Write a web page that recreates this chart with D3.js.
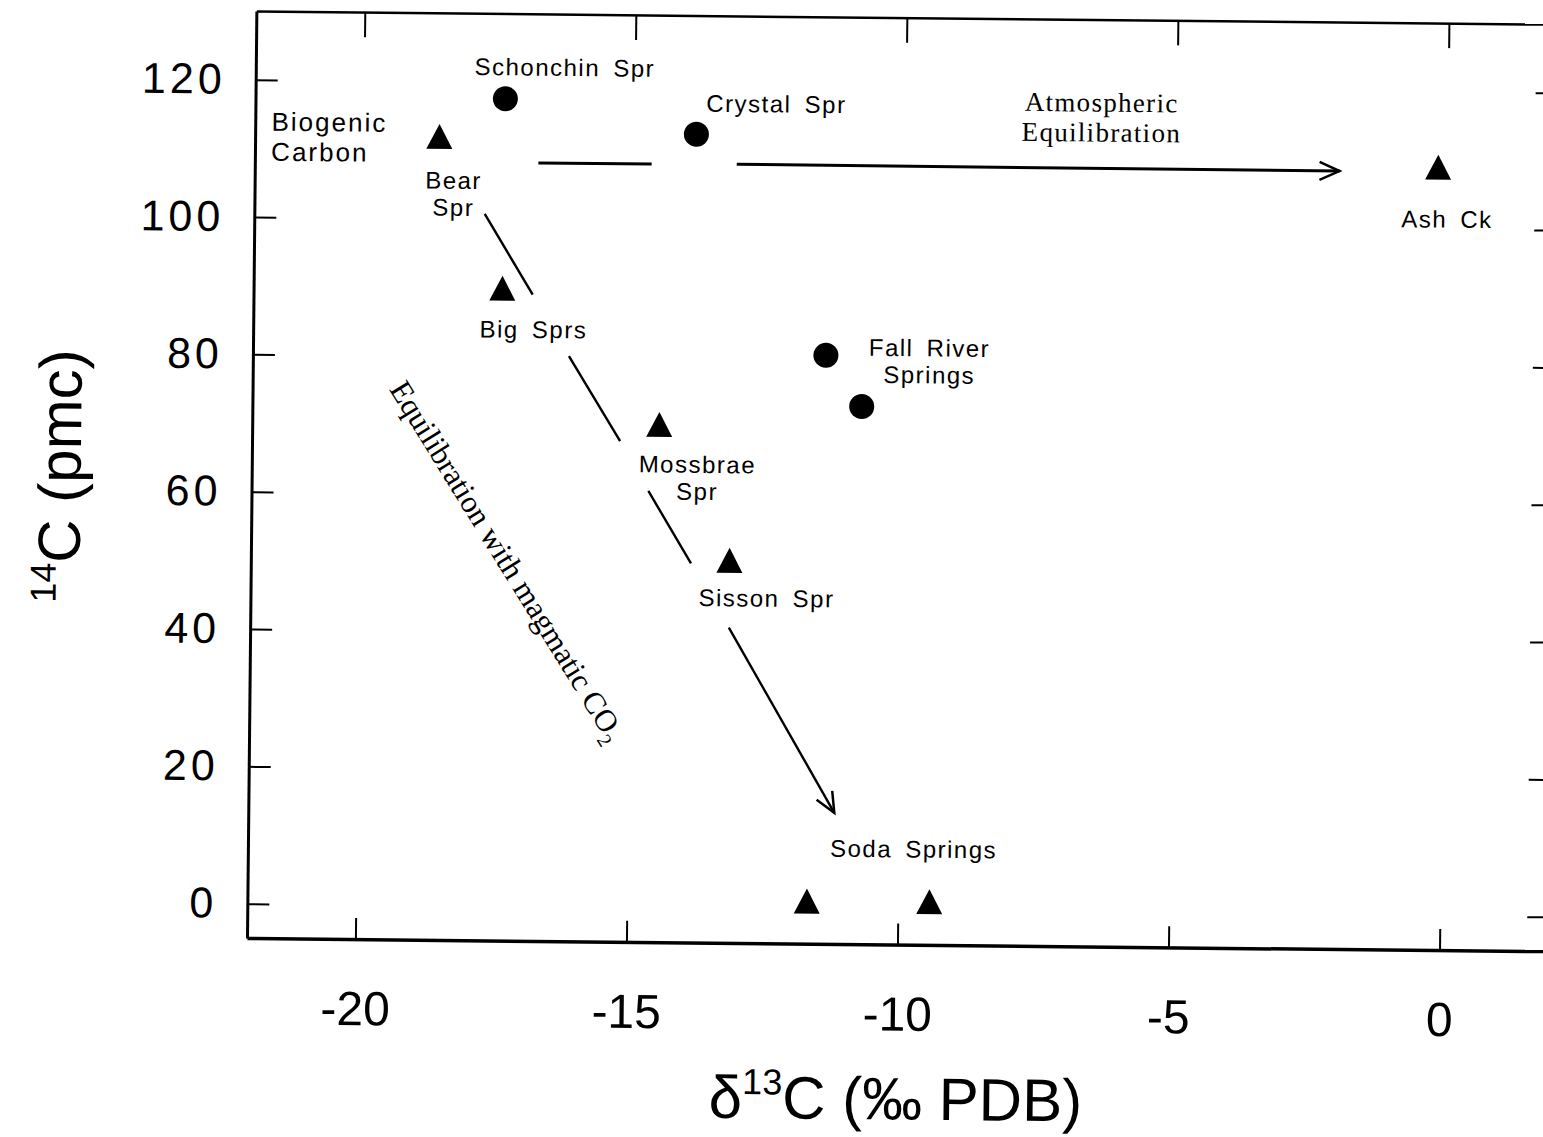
<!DOCTYPE html>
<html>
  <head>
    <meta charset="utf-8" />
    <title>14C vs d13C springs</title>
    <script src="https://d3js.org/d3.v7.min.js" charset="utf-8"></script>
    <style>
      body {
        margin: 0;
        background: #fff;
      }
      svg {
        display: block;
        background: #fff;
      }
      .lbl {
        font-family: "Liberation Sans", Arial, sans-serif;
        font-size: 24px;
        letter-spacing: 1.5px;
        word-spacing: 5px;
        fill: #000;
      }
      .serif {
        font-family: "Liberation Serif", "Times New Roman", serif;
        font-size: 27px;
        letter-spacing: 1.3px;
        fill: #000;
      }
      .xaxis text {
        font-family: "Liberation Sans", Arial, sans-serif;
        font-size: 48px;
      }
      .yaxis text {
        font-family: "Liberation Sans", Arial, sans-serif;
        font-size: 43px;
        letter-spacing: 4px;
      }
      .title {
        font-family: "Liberation Sans", Arial, sans-serif;
        font-size: 60px;
        fill: #000;
      }
    </style>
  </head>
  <body>
    <svg></svg>

    <script>
      // axis ticks
      const xTicks = [-20, -15, -10, -5, 0];
      const yTicks = [0, 20, 40, 60, 80, 100, 120];

      // springs: delta 13C (permil PDB) and 14C (pmc)
      const siteNames = [
        "Schonchin Spr",
        "Crystal Spr",
        "Fall River Springs",
        "Fall River Springs",
        "Bear Spr",
        "Big Sprs",
        "Mossbrae Spr",
        "Sisson Spr",
        "Soda Springs",
        "Soda Springs",
        "Ash Ck",
      ];
      const d13C = [-17.39, -13.86, -11.43, -10.76, -18.6, -17.41, -14.49, -13.17, -11.68, -9.42, -0.17];
      const c14 = [117.6, 112.7, 80.7, 73.3, 111.4, 89.4, 69.8, 50.1, 0.6, 0.7, 108.4];
      const siteShape = ["circle", "circle", "circle", "circle", "tri", "tri", "tri", "tri", "tri", "tri", "tri"];

      // annotation labels (anchored in data units)
      const labelLines = [
        ["Schonchin Spr"],
        ["Crystal Spr"],
        ["Bear", "Spr"],
        ["Big Sprs"],
        ["Fall River", "Springs"],
        ["Mossbrae", "Spr"],
        ["Sisson Spr"],
        ["Soda Springs"],
        ["Ash Ck"],
      ];
      const labelX = [-16.3, -12.39, -18.33, -16.83, -9.52, -13.78, -12.48, -9.72, 0.0];
      const labelY = [121.0, 116.0, 104.4, 82.8, 80.7, 63.4, 44.0, 7.7, 100.2];

      // trend lines with gaps around labels
      const trendSegments = [
        { pts: [[-16.77, 108.3], [-14.68, 108.3]], arrow: false },
        { pts: [[-13.11, 108.4], [-1.99, 108.3]], arrow: true },
        { pts: [[-17.75, 100.8], [-16.85, 89.1]], arrow: false },
        { pts: [[-16.17, 80.2], [-15.21, 67.9]], arrow: false },
        { pts: [[-14.68, 60.7], [-13.88, 50.2]], arrow: false },
        { pts: [[-13.17, 40.9], [-11.19, 14.1]], arrow: true },
      ];

      const W = 1543;
      const H = 1137;
      const margin = { top: 11, left: 247, bottom: 199, right: -5 };
      const tilt = 0.58; // the scanned figure sits slightly rotated

      const x = d3.scaleLinear().domain([-22, 2]).range([margin.left, W - margin.right]);
      const y = d3.scaleLinear().domain([-5, 130]).range([H - margin.bottom, margin.top]);

      const svg = d3.select("svg").attr("width", W).attr("height", H);

      svg
        .append("defs")
        .append("marker")
        .attr("id", "arrow")
        .attr("markerUnits", "userSpaceOnUse")
        .attr("viewBox", "-24 -12 28 24")
        .attr("markerWidth", 28)
        .attr("markerHeight", 24)
        .attr("refX", 0)
        .attr("refY", 0)
        .attr("orient", "auto")
        .append("path")
        .attr("d", "M-20,-9L0,0L-20,9")
        .attr("fill", "none")
        .attr("stroke", "#000")
        .attr("stroke-width", 2.5);

      const g = svg
        .append("g")
        .attr("transform", `rotate(${tilt}, ${margin.left}, ${H - margin.bottom})`);

      // axes
      const xAxis = g
        .append("g")
        .attr("class", "xaxis")
        .attr("transform", `translate(0, ${y(-5)})`)
        .call(
          d3
            .axisBottom(x)
            .tickValues(xTicks)
            .tickSizeInner(-21)
            .tickSizeOuter(0)
            .tickPadding(52)
            .tickFormat((d) => String(d))
        );
      xAxis.select(".domain").attr("stroke-width", 3.5);

      g.append("g")
        .attr("transform", `translate(0, ${y(130)})`)
        .call(d3.axisTop(x).tickValues(xTicks).tickSizeInner(-25).tickSizeOuter(0).tickFormat(""))
        .select(".domain")
        .attr("stroke-width", 2.5);

      const yAxis = g
        .append("g")
        .attr("class", "yaxis")
        .attr("transform", `translate(${x(-22)}, 0)`)
        .call(d3.axisLeft(y).tickValues(yTicks).tickSizeInner(-22).tickSizeOuter(0).tickPadding(30));
      yAxis.select(".domain").attr("stroke-width", 3);

      g.append("g")
        .attr("transform", `translate(${x(2)}, 0)`)
        .call(d3.axisLeft(y).tickValues(yTicks).tickSizeInner(21).tickSizeOuter(0).tickFormat(""))
        .select(".domain")
        .attr("stroke-width", 2.5);

      g.selectAll(".tick line").attr("stroke-width", 2);
      g.selectAll(".tick text").attr("fill", "#000");

      // trend lines
      const line = d3
        .line()
        .x((d) => x(d[0]))
        .y((d) => y(d[1]));

      g.selectAll(".trend")
        .data(trendSegments)
        .join("path")
        .attr("class", "trend")
        .attr("d", (d) => line(d.pts))
        .attr("fill", "none")
        .attr("stroke", "#000")
        .attr("stroke-width", (d, i) => (i < 2 ? 3 : 2.4))
        .attr("marker-end", (d) => (d.arrow ? "url(#arrow)" : null));

      // markers
      const triangle = {
        draw(ctx, size) {
          const w = Math.sqrt(size);
          const h = w * 0.96;
          ctx.moveTo(0, (-2 * h) / 3);
          ctx.lineTo(w / 2, h / 3);
          ctx.lineTo(-w / 2, h / 3);
          ctx.closePath();
        },
      };

      const sites = siteNames.map((name, i) => ({ name, x: d13C[i], y: c14[i], shape: siteShape[i] }));

      g.selectAll(".site")
        .data(sites)
        .join("path")
        .attr("class", "site")
        .attr("transform", (d) => `translate(${x(d.x)}, ${y(d.y)})`)
        .attr("d", (d) =>
          d.shape === "circle" ? d3.symbol(d3.symbolCircle, Math.PI * 12.5 * 12.5)() : d3.symbol(triangle, 26 * 26)()
        )
        .attr("fill", "#000");

      // point labels
      labelLines.forEach((lines, i) => {
        const t = g
          .append("text")
          .attr("class", "lbl")
          .attr("text-anchor", "middle")
          .attr("x", x(labelX[i]))
          .attr("y", y(labelY[i]));
        lines.forEach((s, j) => {
          t.append("tspan")
            .attr("x", x(labelX[i]))
            .attr("dy", j === 0 ? 0 : 27)
            .text(s);
        });
      });

      // end-member notes
      const bio = g
        .append("text")
        .attr("class", "lbl")
        .style("font-size", "26px")
        .style("letter-spacing", "2px")
        .attr("x", x(-21.7))
        .attr("y", y(112.6));
      ["Biogenic", "Carbon"].forEach((s, j) => {
        bio.append("tspan").attr("x", x(-21.7)).attr("dy", j === 0 ? 0 : 30).text(s);
      });

      const atm = g
        .append("text")
        .attr("class", "serif")
        .attr("text-anchor", "middle")
        .attr("x", x(-6.39))
        .attr("y", y(116.6));
      ["Atmospheric", "Equilibration"].forEach((s, j) => {
        atm.append("tspan").attr("x", x(-6.39)).attr("dy", j === 0 ? 0 : 30).text(s);
      });

      const mag = g
        .append("text")
        .attr("class", "serif")
        .style("font-size", "31px")
        .style("letter-spacing", "0px")
        .attr("text-anchor", "middle")
        .attr("transform", `translate(${x(-17.26)}, ${y(50.3)}) rotate(57.7)`)
        .attr("dy", "0.35em");
      mag.append("tspan").text("Equilibration with magmatic CO");
      mag.append("tspan").style("font-size", "20px").attr("dy", 8).text("2");

      // axis titles
      const xt = g
        .append("text")
        .attr("class", "title")
        .attr("text-anchor", "middle")
        .attr("x", 897)
        .attr("y", 1113);
      xt.append("tspan").text("\u03b4");
      xt.append("tspan").style("font-size", "36px").attr("dy", -24).text("13");
      xt.append("tspan").attr("dy", 24).text("C (\u2030 PDB)");

      const yt = g
        .append("text")
        .attr("class", "title")
        .attr("text-anchor", "middle")
        .attr("transform", "translate(76, 478) rotate(-90)");
      yt.append("tspan").style("font-size", "36px").attr("dy", -24).text("14");
      yt.append("tspan").attr("dy", 24).text("C (pmc)");
    </script>
  </body>
</html>
